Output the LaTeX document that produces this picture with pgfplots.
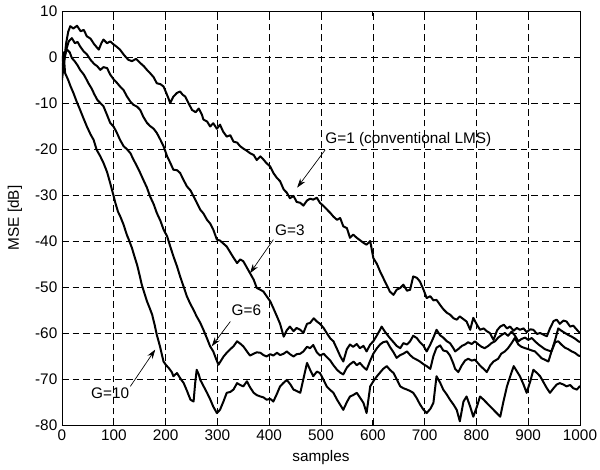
\documentclass[border=0pt]{standalone}
\usepackage{pgfplots}
\pgfplotsset{compat=1.18}
\usepackage{fontspec}
\setmainfont{Liberation Sans}
\usetikzlibrary{arrows.meta}
\tikzset{curve/.style={black, no marks, line width=1.5pt, line join=round}}

\begin{document}
\begin{tikzpicture}
\path[use as bounding box] (-46.5pt,-33pt) rectangle (403.5pt,318.75pt);
\begin{axis}[
  at={(0,0)}, anchor=south west,
  scale only axis,
  width=388.5pt, height=310.5pt,
  xmin=0, xmax=1000, ymin=-80, ymax=10,
  xtick={0,100,...,1000}, ytick={-80,-70,...,10},
  grid=major,
  major grid style={black, dash pattern=on 5pt off 3pt, line width=0.45pt},
  axis line style={line width=0.6pt},
  tick align=inside, major tick length=4pt,
  tick style={black, line width=0.5pt},
  font=\fontsize{11.5}{13}\selectfont,
  /pgf/number format/assume math mode=true,
  /pgf/number format/1000 sep={},
  xlabel={samples}, ylabel={MSE [dB]},
  xlabel style={at={(axis description cs:0.5,-0.0797)},anchor=center},
  ylabel style={at={(axis description cs:-0.0907,0.5)},anchor=center},
]

% G=1 (conventional LMS)
\addplot[curve] coordinates {
(0,-5) (4,-1) (8,3) (12,5.5) (16,6.7) (22,6.2) (29,6.8) (36,5.6) (42,5.9) (48,4.5)
(55,4.0) (62,2.8) (71,1.6) (76,3.0) (80,3.8) (87,3.0) (93,3.4) (100,2.7) (106,2.2) (112,1.6)
(120,0.4) (128,-0.6) (135,-0.9) (143,-0.4) (151,-1.3) (158,-2.0) (164,-2.8) (170,-3.5) (177,-4.4) (183,-5.7)
(190,-5.9) (196,-6.4) (202,-8.0) (209,-10.0) (215,-8.6) (222,-7.8) (228,-7.5) (233,-8.2) (238,-8.6) (245,-10.2)
(251,-11.5) (258,-12.0) (264,-11.2) (270,-12.5) (273,-13.6) (280,-14.0) (286,-15.1) (292,-14.4) (299,-15.6) (305,-14.7)
(311,-16.2) (318,-17.3) (325,-17.0) (331,-18.4) (338,-18.6) (344,-19.4) (350,-19.9) (357,-20.4) (363,-20.9) (370,-21.3)
(376,-22.4) (383,-21.6) (389,-22.3) (395,-23.1) (402,-23.8) (408,-25.2) (415,-26.3) (421,-27.0) (428,-28.8) (434,-29.5)
(440,-30.7) (447,-30.2) (453,-31.5) (460,-31.7) (466,-32.3) (473,-31.2) (479,-30.8) (485,-31.0) (492,-30.6) (498,-31.7)
(505,-32.4) (511,-33.1) (518,-33.9) (524,-34.7) (531,-35.4) (537,-35.0) (543,-36.8) (550,-37.2) (556,-39.3) (562,-38.6)
(569,-39.3) (575,-39.8) (582,-40.4) (588,-40.8) (595,-40.0) (601,-43.7) (608,-45.0) (614,-46.6) (620,-48.0) (627,-49.6)
(633,-51.0) (640,-51.7) (646,-50.6) (653,-50.2) (659,-49.5) (666,-50.8) (672,-50.6) (678,-47.7) (685,-48.0) (691,-48.8)
(698,-50.6) (704,-52.4) (711,-52.0) (717,-52.9) (723,-52.8) (730,-53.9) (736,-54.8) (743,-55.6) (749,-56.0) (756,-56.8)
(762,-57.1) (768,-56.4) (775,-57.0) (781,-57.5) (788,-59.3) (794,-56.7) (801,-58.2) (807,-59.3) (814,-59.0) (820,-59.6)
(826,-60.0) (833,-61.5) (840,-59.4) (846,-58.6) (853,-58.2) (859,-59.0) (865,-58.6) (872,-59.5) (878,-58.9) (884,-59.3)
(891,-59.0) (897,-59.8) (904,-59.2) (910,-59.3) (917,-60.2) (923,-60.0) (930,-60.4) (936,-60.7) (942,-59.0) (949,-57.4)
(955,-57.1) (961,-58.0) (968,-57.3) (974,-57.5) (981,-58.6) (987,-58.4) (994,-59.3) (1000,-60.0)
};

% G=3
\addplot[curve] coordinates {
(0,-3) (4,-1) (8,1.5) (13,3.4) (19,4.1) (25,3.0) (30,3.3) (35,2.3) (42,1.2) (48,0.6)
(55,-0.6) (62,-1.5) (68,-2.0) (74,-2.8) (80,-2.2) (87,-2.4) (93,-3.8) (100,-4.9) (106,-5.6) (112,-6.4)
(119,-7.2) (125,-8.5) (132,-9.7) (138,-10.4) (145,-10.8) (151,-11.5) (157,-13.0) (164,-14.3) (170,-15.0) (177,-15.6)
(183,-16.5) (190,-18.0) (196,-19.4) (203,-21.6) (209,-23.0) (215,-24.5) (222,-24.6) (228,-25.2) (235,-26.8) (241,-28.1)
(248,-29.0) (254,-30.3) (260,-31.6) (267,-33.2) (273,-34.0) (280,-35.4) (286,-36.2) (292,-37.5) (299,-39.7) (305,-39.9)
(312,-40.6) (318,-41.2) (325,-42.5) (331,-43.6) (338,-44.8) (344,-44.0) (350,-44.4) (357,-45.8) (363,-47.0) (370,-48.4)
(376,-50.2) (383,-50.6) (389,-51.0) (395,-52.0) (402,-53.1) (408,-54.6) (415,-56.4) (421,-58.0) (428,-60.8) (434,-59.4)
(440,-58.6) (447,-59.6) (453,-58.9) (460,-59.3) (466,-60.0) (473,-58.0) (479,-57.8) (486,-56.8) (492,-57.5) (498,-58.0)
(505,-58.9) (511,-60.0) (518,-61.2) (524,-61.8) (531,-63.5) (537,-65.0) (543,-66.2) (550,-63.5) (556,-62.5) (562,-63.0)
(569,-62.4) (575,-63.3) (582,-62.8) (588,-64.0) (595,-62.5) (601,-61.8) (608,-60.5) (614,-59.3) (617,-58.6) (624,-59.8)
(633,-61.1) (640,-62.0) (646,-62.8) (653,-63.3) (659,-62.2) (666,-62.5) (672,-61.8) (678,-60.6) (685,-61.1) (691,-62.0)
(698,-62.8) (704,-64.0) (711,-62.5) (717,-61.0) (723,-59.3) (730,-60.5) (736,-61.0) (743,-61.8) (749,-62.2) (755,-63.2)
(759,-64.0) (765,-63.5) (772,-62.8) (778,-62.5) (784,-62.0) (791,-62.4) (797,-61.8) (804,-62.5) (810,-63.0) (816,-63.3)
(823,-62.8) (829,-62.2) (836,-61.8) (842,-61.0) (849,-60.4) (855,-60.0) (861,-60.6) (868,-59.7) (874,-60.5) (881,-61.8)
(887,-61.3) (894,-61.0) (900,-61.5) (907,-61.1) (913,-61.8) (920,-62.5) (926,-63.0) (932,-63.5) (939,-63.8) (945,-64.0)
(952,-61.5) (958,-59.0) (964,-59.5) (971,-60.0) (977,-60.4) (984,-60.8) (990,-61.2) (997,-61.8) (1000,-62.0)
};

% G=6
\addplot[curve] coordinates {
(0,-2) (4,-0.5) (7,1.0) (10,1.6) (15,1.0) (19,-0.2) (25,-1.0) (30,-1.8) (35,-2.8) (42,-3.8)
(46,-4.6) (51,-5.7) (57,-6.8) (62,-8.0) (68,-9.3) (74,-10.0) (80,-10.7) (87,-12.6) (93,-14.3) (100,-15.2)
(106,-16.5) (112,-18.0) (119,-19.4) (125,-20.0) (132,-20.9) (138,-22.3) (145,-23.8) (151,-25.2) (157,-26.7) (164,-28.4)
(170,-30.3) (177,-32.0) (183,-33.9) (190,-35.6) (196,-37.5) (203,-39.0) (209,-41.2) (215,-43.3) (222,-45.5) (228,-47.7)
(235,-50.0) (241,-52.0) (247,-53.5) (254,-55.0) (260,-56.4) (267,-57.8) (273,-59.3) (280,-61.2) (286,-62.9) (292,-64.0)
(297,-65.5) (302,-66.9) (307,-66.0) (312,-65.1) (318,-64.3) (325,-63.5) (331,-62.9) (338,-61.8) (344,-62.3) (350,-62.9)
(357,-64.0) (363,-64.9) (370,-64.5) (376,-64.2) (383,-64.3) (389,-64.8) (395,-65.1) (402,-64.6) (408,-64.9) (415,-64.3)
(421,-64.8) (428,-64.5) (434,-64.0) (440,-64.6) (447,-65.1) (453,-64.6) (460,-64.5) (466,-64.0) (473,-63.0) (479,-63.3)
(485,-62.6) (492,-64.2) (498,-64.9) (505,-64.5) (511,-65.2) (518,-66.0) (524,-67.0) (531,-68.0) (537,-68.6) (543,-69.0)
(550,-67.5) (556,-66.8) (563,-66.2) (569,-67.0) (575,-66.5) (582,-67.4) (588,-68.0) (595,-66.0) (601,-64.5) (608,-63.3)
(614,-62.5) (620,-62.0) (627,-61.8) (633,-63.0) (640,-64.2) (646,-65.4) (653,-64.8) (659,-64.5) (666,-64.0) (672,-64.8)
(678,-65.4) (685,-65.8) (691,-66.2) (698,-66.8) (704,-67.2) (711,-67.8) (717,-65.0) (723,-63.2) (730,-62.7) (736,-63.8)
(743,-64.0) (749,-64.9) (755,-66.5) (759,-67.8) (765,-68.5) (772,-67.0) (778,-66.0) (784,-65.6) (791,-66.0) (797,-65.8)
(801,-66.3) (808,-67.2) (814,-67.8) (820,-68.5) (827,-67.0) (833,-66.2) (842,-65.6) (848,-64.5) (855,-64.0) (861,-63.3)
(868,-62.2) (874,-61.1) (881,-62.5) (887,-63.0) (894,-63.3) (900,-63.5) (907,-63.8) (913,-64.0) (920,-64.8) (926,-65.5)
(932,-65.8) (939,-66.2) (945,-64.0) (952,-62.0) (958,-61.8) (964,-62.5) (971,-63.2) (977,-63.5) (984,-64.0) (990,-64.3)
(997,-64.9) (1000,-65.0)
};

% G=10
\addplot[curve] coordinates {
(0,-1) (3,1) (6,-3.5) (12,-5.0) (17,-6.5) (22,-7.8) (28,-9.6) (35,-11.5) (41,-13.2) (48,-15.1)
(55,-16.8) (61,-18.0) (67,-20.2) (74,-21.6) (80,-23.0) (87,-25.0) (93,-27.4) (98,-29.5) (103,-31.7) (108,-33.6)
(113,-34.8) (119,-36.5) (125,-38.6) (130,-40.0) (135,-41.5) (140,-43.4) (145,-45.2) (150,-47.5) (154,-49.5) (159,-51.3)
(164,-53.1) (169,-54.5) (174,-56.0) (179,-58.3) (183,-60.4) (187,-62.0) (190,-63.3) (193,-64.8) (196,-66.2) (201,-67.0)
(206,-67.6) (212,-68.5) (215,-69.4) (219,-69.0) (222,-68.7) (228,-69.8) (235,-70.9) (241,-72.5) (248,-74.5) (254,-74.9)
(257,-71.0) (260,-68.0) (264,-69.0) (267,-70.2) (273,-71.5) (280,-73.0) (286,-74.4) (292,-76.0) (299,-77.4) (305,-76.7)
(312,-74.8) (318,-73.0) (325,-72.8) (331,-72.3) (338,-70.9) (344,-71.3) (350,-71.6) (357,-70.5) (363,-71.8) (370,-73.0)
(376,-73.5) (383,-73.8) (389,-74.0) (395,-74.5) (402,-74.3) (408,-74.9) (415,-73.2) (421,-71.6) (428,-70.8) (434,-70.2)
(441,-71.2) (447,-72.3) (453,-72.6) (460,-73.0) (466,-70.0) (473,-66.5) (479,-68.0) (485,-69.4) (492,-68.4) (498,-68.7)
(505,-70.2) (511,-71.6) (518,-72.4) (524,-73.0) (531,-74.5) (537,-75.6) (543,-76.7) (550,-75.0) (556,-73.8) (562,-73.5)
(569,-73.0) (575,-74.0) (582,-75.2) (588,-77.4) (595,-71.6) (601,-70.5) (608,-69.4) (614,-68.6) (620,-67.8) (627,-67.2)
(633,-68.0) (640,-68.7) (646,-70.0) (653,-71.6) (659,-72.0) (666,-72.3) (672,-72.6) (678,-73.0) (685,-74.2) (691,-75.5)
(698,-76.7) (704,-77.4) (711,-76.5) (717,-75.2) (723,-69.4) (730,-70.8) (736,-72.3) (743,-73.4) (749,-74.5) (756,-75.6)
(762,-76.7) (768,-79.2) (775,-74.9) (781,-73.8) (788,-76.0) (794,-78.2) (801,-76.0) (807,-73.8) (814,-74.5) (820,-75.2)
(827,-76.0) (833,-76.7) (840,-77.5) (846,-78.2) (852,-75.0) (859,-71.6) (865,-69.5) (872,-67.2) (878,-68.3) (884,-69.4)
(891,-71.2) (897,-73.0) (904,-70.5) (910,-68.0) (917,-68.7) (923,-69.4) (930,-70.8) (936,-72.0) (942,-73.0) (949,-72.0)
(955,-71.2) (961,-70.9) (968,-71.2) (974,-71.6) (981,-71.3) (987,-72.0) (994,-72.3) (1000,-71.5)
};

% annotations
\draw[-{Stealth[length=7pt,width=4.5pt]}, line width=0.5pt] (axis cs:508,-20.2) -- (axis cs:454,-28.4);
\node[anchor=west, inner sep=0pt] at (axis cs:508,-18) {G=1 (conventional LMS)};
\draw[-{Stealth[length=7pt,width=4.5pt]}, line width=0.5pt] (axis cs:408,-39.7) -- (axis cs:363,-47);
\node[inner sep=0pt] at (axis cs:440,-37.7) {G=3};
\draw[-{Stealth[length=7pt,width=4.5pt]}, line width=0.5pt] (axis cs:325,-57.5) -- (axis cs:289,-62.9);
\node[inner sep=0pt] at (axis cs:356,-55.1) {G=6};
\draw[-{Stealth[length=7pt,width=4.5pt]}, line width=0.5pt] (axis cs:132,-71.6) -- (axis cs:180,-63.6);
\node[inner sep=0pt] at (axis cs:93,-73.1) {G=10};

\end{axis}
\end{tikzpicture}
\end{document}
